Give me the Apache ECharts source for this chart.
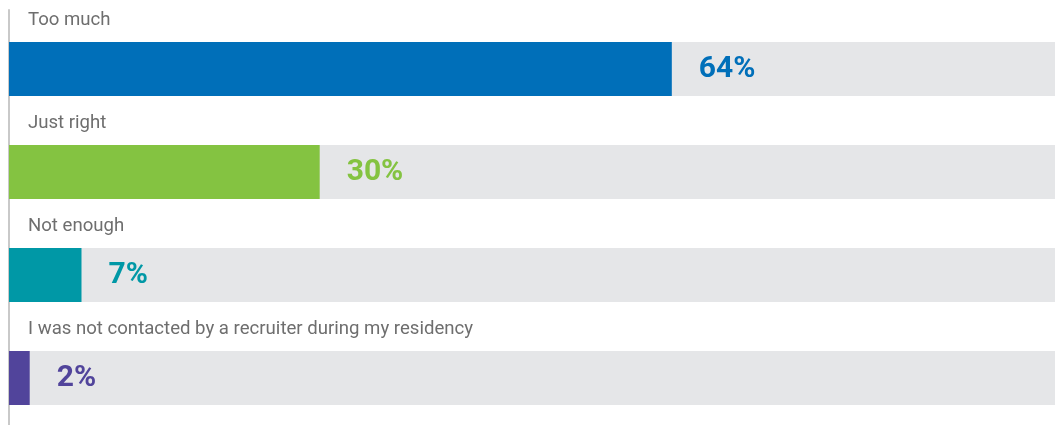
<!DOCTYPE html>
<html>
<head>
<meta charset="utf-8">
<script src="https://cdn.jsdelivr.net/npm/echarts@6/dist/echarts.min.js"></script>
<style>
  html, body { margin: 0; padding: 0; background: #fff; }
  #chart { width: 1055px; height: 425px; }
</style>
</head>
<body>
<div id="chart"></div>
<script>
// answers and shares (%)
let categories = ['Too much', 'Just right', 'Not enough', 'I was not contacted by a recruiter during my residency']
let values = [64, 30, 7, 2]
let barColors = ['#006fb9', '#84c341', '#0098a6', '#51449b']

let myChart = echarts.init(document.getElementById('chart'))

let option = {
    animation: false,
    grid: [
        { left: 9, top: 17.5, height: 412, right: 0, outerBoundsMode: 'none' },
        // only used for the thin rule on the left
        { left: 9, top: 10, bottom: 0, right: 0, outerBoundsMode: 'none' }
    ],
    xAxis: [
        { type: 'value', min: 0, max: 101, show: false },
        { type: 'value', gridIndex: 1, show: false }
    ],
    yAxis: [
        {
            type: 'category',
            data: categories,
            inverse: true,
            axisLine: { show: false },
            axisTick: { show: false },
            axisLabel: { show: false }
        },
        {
            type: 'value',
            gridIndex: 1,
            offset: 2,
            axisLine: { show: true, lineStyle: { color: '#c9c9c9', width: 2 } },
            axisTick: { show: false },
            axisLabel: { show: false },
            splitLine: { show: false }
        }
    ],
    series: [
        {
            // colored bars with value labels
            type: 'bar',
            barWidth: 54,
            data: values.map(function (v, i) {
                return {
                    value: v,
                    itemStyle: { color: barColors[i] },
                    label: { color: barColors[i] }
                }
            }),
            showBackground: true,
            backgroundStyle: { color: '#e5e6e8' },
            label: {
                show: true,
                position: 'right',
                distance: 27,
                formatter: '{c}%',
                fontFamily: 'Roboto',
                fontWeight: 'bold',
                fontSize: 30
            }
        },
        {
            // invisible copy, only carries the category names above each bar
            type: 'bar',
            barWidth: 54,
            barGap: '-100%',
            data: values,
            silent: true,
            itemStyle: { color: 'transparent' },
            label: {
                show: true,
                position: [19, -22],
                verticalAlign: 'middle',
                align: 'left',
                formatter: '{b}',
                fontFamily: 'Roboto',
                fontSize: 18.6,
                color: '#6e6e6e'
            }
        }
    ]
}

myChart.setOption(option)
</script>
</body>
</html>
